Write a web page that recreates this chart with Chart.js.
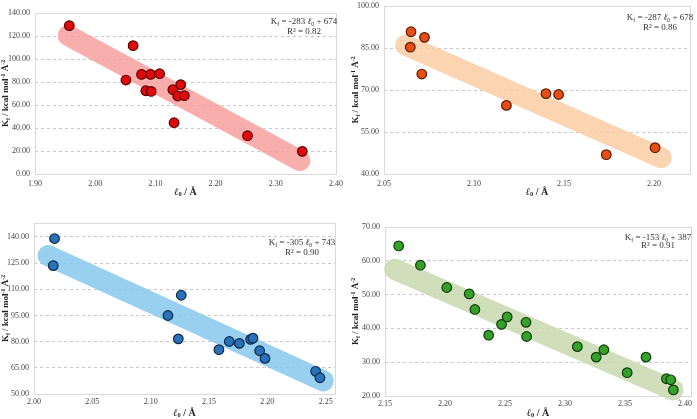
<!DOCTYPE html>
<html>
<head>
<meta charset="utf-8">
<script src="https://cdn.jsdelivr.net/npm/chart.js@4/dist/chart.umd.min.js"></script>
<style>
  body { margin: 0; background: #fff; width: 697px; height: 419px; position: relative; overflow: hidden; }
  canvas { position: absolute; }
</style>
</head>
<body>
<canvas id="g1" width="347" height="207" style="left:0;top:0"></canvas>
<canvas id="g2" width="347" height="207" style="left:350px;top:0"></canvas>
<canvas id="g3" width="347" height="209" style="left:0;top:210px"></canvas>
<canvas id="g4" width="347" height="209" style="left:350px;top:210px"></canvas>
<script>
// Panel 1 (rojo)
const p1X = [1.957, 2.063, 2.051, 2.077, 2.092, 2.107, 2.084, 2.093, 2.129, 2.142, 2.137, 2.148, 2.131, 2.253, 2.344];
const p1Y = [129.0, 111.6, 81.7, 86.6, 86.6, 87.2, 72.4, 71.8, 73.3, 77.7, 67.8, 68.1, 44.6, 33.3, 19.7];
const p1BandX = [1.955, 2.340];
const p1BandY = [120.5, 11.8];
const p1XTicks = [1.90, 2.00, 2.10, 2.20, 2.30, 2.40];
const p1YTicks = [0, 20, 40, 60, 80, 100, 120, 140];
const p1Fit = ['-283', '674', '0.82'];

// Panel 2 (naranja)
const p2X = [2.065, 2.0646, 2.0725, 2.071, 2.118, 2.140, 2.147, 2.1735, 2.2006];
const p2Y = [90.8, 85.3, 88.8, 75.7, 64.5, 68.7, 68.4, 46.9, 49.4];
const p2BandX = [2.062, 2.204];
const p2BandY = [86.0, 45.8];
const p2XTicks = [2.05, 2.10, 2.15, 2.20];
const p2YTicks = [40, 55, 70, 85, 100];
const p2Fit = ['-287', '678', '0.86'];

// Panel 3 (azul)
const p3X = [2.0176, 2.0165, 2.1262, 2.1148, 2.1237, 2.1585, 2.1674, 2.176, 2.1857, 2.1877, 2.1934, 2.198, 2.2414, 2.2451];
const p3Y = [139.1, 123.6, 106.6, 95.0, 81.6, 75.4, 80.1, 79.0, 81.3, 82.0, 74.8, 70.4, 63.0, 59.3];
const p3BandX = [2.012, 2.248];
const p3BandY = [129.3, 57.5];
const p3XTicks = [2.00, 2.05, 2.10, 2.15, 2.20, 2.25];
const p3YTicks = [50, 65, 80, 95, 110, 125, 140];
const p3Fit = ['-305', '743', '0.90'];

// Panel 4 (verde)
const p4X = [2.1614, 2.1795, 2.2015, 2.2202, 2.2249, 2.2364, 2.2471, 2.2518, 2.2675, 2.268, 2.3103, 2.326, 2.3324, 2.3518, 2.3675, 2.3845, 2.3881, 2.3903];
const p4Y = [64.4, 58.7, 52.1, 50.2, 45.6, 38.0, 41.2, 43.4, 41.8, 37.6, 34.6, 31.5, 33.7, 26.9, 31.5, 25.1, 24.8, 21.8];
const p4BandX = [2.158, 2.390];
const p4BandY = [57.5, 21.8];
const p4XTicks = [2.15, 2.20, 2.25, 2.30, 2.35, 2.40];
const p4YTicks = [20, 30, 40, 50, 60, 70];
const p4Fit = ['-153', '387', '0.91'];

const SERIF = '"Liberation Serif", "DejaVu Serif", serif';

// Dibuja texto con subindices / superindices
function drawRich(ctx, parts, x, y, size, bold, align) {
  const fontOf = p => (p.it ? 'italic ' : '') + (bold || p.b ? 'bold ' : '') +
    (p.s ? size * 0.65 : size) + 'px ' + SERIF;
  let w = 0;
  parts.forEach(p => { ctx.font = fontOf(p); w += ctx.measureText(p.t).width; });
  let cx = align === 'right' ? x - w : x - w / 2;
  ctx.textAlign = 'left';
  ctx.textBaseline = 'middle';
  parts.forEach(p => {
    ctx.font = fontOf(p);
    const dy = p.s === 'sub' ? size * 0.28 : p.s === 'sup' ? -size * 0.3 : 0;
    ctx.fillText(p.t, cx, y + dy);
    cx += ctx.measureText(p.t).width;
  });
}

function makePanel(id, d, g) {
  const yTitle = [{t: 'K'}, {t: 'f', s: 'sub'}, {t: ' / kcal mol'}, {t: '-1', s: 'sup'}, {t: ' Å'}, {t: '-2', s: 'sup'}];
  const xTitle = [{t: 'ℓ', it: true}, {t: '0', s: 'sub'}, {t: ' / Å'}];
  const eq = [{t: 'K'}, {t: 'f', s: 'sub'}, {t: ' = ' + d.fit[0] + ' '}, {t: 'ℓ', it: true, b: true}, {t: '0', s: 'sub'}, {t: ' + ' + d.fit[1]}];

  const decor = {
    id: 'decor',
    beforeDatasetsDraw(chart) {
      const a = chart.chartArea, ctx = chart.ctx;
      ctx.save();
      ctx.strokeStyle = '#d9d9d9';
      ctx.lineWidth = 1;
      ctx.strokeRect(Math.round(a.left) + 0.5, Math.round(a.top) + 0.5, Math.round(a.right - a.left), Math.round(a.bottom - a.top));
      ctx.restore();
    },
    afterDraw(chart) {
      const a = chart.chartArea, ctx = chart.ctx;
      ctx.save();
      ctx.fillStyle = '#222';
      drawRich(ctx, xTitle, (a.left + a.right) / 2, g.xTitleY, 10, true, 'center');
      ctx.translate(g.yTitleX, (a.top + a.bottom) / 2);
      ctx.rotate(-Math.PI / 2);
      drawRich(ctx, yTitle, 0, 0, 9, true, 'center');
      ctx.restore();
      ctx.save();
      ctx.fillStyle = '#333';
      drawRich(ctx, eq, g.eq[0], g.eq[1], 9, false, 'center');
      drawRich(ctx, [{t: 'R² = ' + d.fit[2]}], g.eq[0], g.eq[2], 9, false, 'center');
      ctx.restore();
    }
  };

  new Chart(document.getElementById(id), {
    type: 'scatter',
    data: {
      datasets: [
        {
          data: d.xs.map((x, i) => ({x: x, y: d.ys[i]})),
          backgroundColor: d.dot,
          borderColor: d.edge,
          borderWidth: 1.2,
          pointRadius: 4.8,
          order: 1
        },
        {
          type: 'line',
          data: d.bx.map((x, i) => ({x: x, y: d.by[i]})),
          borderColor: d.band,
          borderWidth: 21,
          borderCapStyle: 'round',
          pointRadius: 0,
          clip: false,
          order: 2
        }
      ]
    },
    options: {
      responsive: false,
      animation: false,
      devicePixelRatio: 1,
      layout: { padding: { left: 0, right: g.padR, top: g.padT, bottom: 0 } },
      plugins: { legend: { display: false }, tooltip: { enabled: false } },
      scales: {
        x: {
          type: 'linear',
          min: d.xr[0], max: d.xr[1],
          afterBuildTicks: s => { s.ticks = d.xt.map(v => ({value: v})); },
          afterFit: s => { s.height = g.xH; s.paddingLeft = 0; s.paddingRight = 0; },
          grid: { display: false, drawTicks: false },
          border: { display: false },
          ticks: {
            autoSkip: false, maxRotation: 0, padding: g.xPad,
            color: '#444', font: { family: SERIF, size: 8 },
            callback: v => Number(v).toFixed(2)
          }
        },
        y: {
          min: d.yr[0], max: d.yr[1],
          afterBuildTicks: s => { s.ticks = d.yt.map(v => ({value: v})); },
          afterFit: s => { s.width = g.yW; s.paddingTop = 0; s.paddingBottom = 0; },
          grid: { color: '#c8c8c8', drawTicks: false },
          border: { display: false, dash: [3, 3] },
          ticks: {
            padding: 5,
            color: '#444', font: { family: SERIF, size: 8 },
            callback: v => Number(v).toFixed(2)
          }
        }
      }
    },
    plugins: [decor]
  });
}

makePanel('g1',
  {xs: p1X, ys: p1Y, bx: p1BandX, by: p1BandY, xt: p1XTicks, yt: p1YTicks, xr: [1.90, 2.40], yr: [0, 140],
   fit: p1Fit, dot: '#e10a0a', edge: '#5a0000', band: 'rgba(248,160,160,0.85)'},
  {yW: 35, padR: 11, padT: 13, xH: 33, xPad: 5, xTitleY: 192, yTitleX: 6, eq: [304, 22, 32]});

makePanel('g2',
  {xs: p2X, ys: p2Y, bx: p2BandX, by: p2BandY, xt: p2XTicks, yt: p2YTicks, xr: [2.05, 2.22], yr: [40, 100],
   fit: p2Fit, dot: '#e84e12', edge: '#5c1a00', band: 'rgba(250,205,165,0.85)'},
  {yW: 34, padR: 7, padT: 3, xH: 33, xPad: 5, xTitleY: 192, yTitleX: 6, eq: [310, 18, 28]});

makePanel('g3',
  {xs: p3X, ys: p3Y, bx: p3BandX, by: p3BandY, xt: p3XTicks, yt: p3YTicks, xr: [2.00, 2.258], yr: [50, 148],
   fit: p3Fit, dot: '#2a72b8', edge: '#0b2a4c', band: 'rgba(135,200,236,0.85)'},
  {yW: 34, padR: 12, padT: 13, xH: 25, xPad: 3, xTitleY: 203, yTitleX: 6, eq: [302, 33, 43]});

makePanel('g4',
  {xs: p4X, ys: p4Y, bx: p4BandX, by: p4BandY, xt: p4XTicks, yt: p4YTicks, xr: [2.15, 2.405], yr: [20, 70],
   fit: p4Fit, dot: '#35a02a', edge: '#0f3d0c', band: 'rgba(200,216,175,0.85)'},
  {yW: 35, padR: 2, padT: 17, xH: 23, xPad: 3, xTitleY: 203, yTitleX: 6, eq: [308, 28, 36]});
</script>
</body>
</html>
